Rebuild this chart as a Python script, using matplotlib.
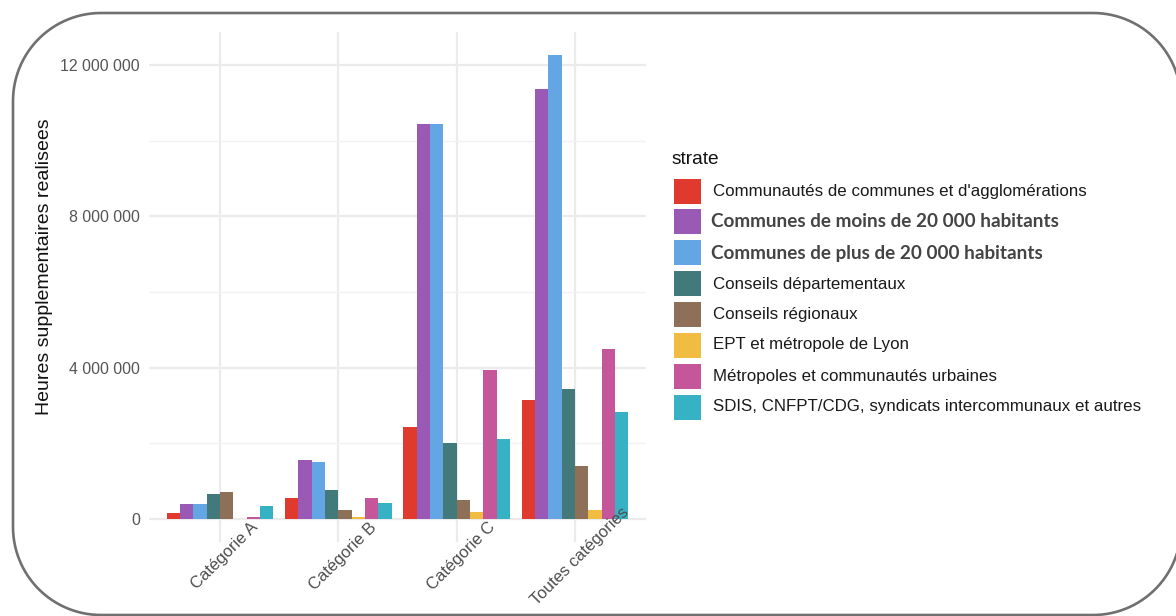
import numpy as np
import matplotlib
matplotlib.use("Agg")
import matplotlib.pyplot as plt
import matplotlib.transforms as mtrans
from matplotlib.patches import Rectangle, PathPatch
from matplotlib.path import Path
from matplotlib.transforms import IdentityTransform
from matplotlib.ticker import FuncFormatter, MultipleLocator

categories = ["Catégorie A", "Catégorie B", "Catégorie C", "Toutes catégories"]
strates = [
    "Communautés de communes et d'agglomérations",
    "Communes de moins de 20 000 habitants",
    "Communes de plus de 20 000 habitants",
    "Conseils départementaux",
    "Conseils régionaux",
    "EPT et métropole de Lyon",
    "Métropoles et communautés urbaines",
    "SDIS, CNFPT/CDG, syndicats intercommunaux et autres",
]
# values per strate, for [A, B, C, Toutes]
v_cc = [150000, 540000, 2440000, 3140000]
v_moins20k = [380000, 1560000, 10430000, 11380000]
v_plus20k = [380000, 1500000, 10430000, 12270000]
v_dep = [660000, 770000, 2000000, 3420000]
v_reg = [710000, 240000, 500000, 1400000]
v_ept = [0, 60000, 180000, 230000]
v_metro = [60000, 540000, 3930000, 4500000]
v_sdis = [340000, 430000, 2110000, 2820000]
values = [v_cc, v_moins20k, v_plus20k, v_dep, v_reg, v_ept, v_metro, v_sdis]
colors = ["#e0392d", "#9b59b6", "#63a6e3", "#42797a", "#8e7058",
          "#f0bd42", "#c6569a", "#37b2c5"]

W, H = 1176, 616
fig = plt.figure(figsize=(W / 100, H / 100), dpi=100)
fig.patch.set_facecolor("white")

def px(x0, y0, x1, y1):
    return [x0 / W, 1 - y1 / H, (x1 - x0) / W, (y1 - y0) / H]

ax = fig.add_axes(px(149, 31.7, 646, 542))
ax.set_facecolor("white")
ax.set_axisbelow(True)

n = len(values)
bw = 0.9 / n
x = np.arange(len(categories))
for i, (vals, c) in enumerate(zip(values, colors)):
    ax.bar(x + (i - (n - 1) / 2) * bw, vals, width=bw, color=c,
           edgecolor="none", zorder=2)

ymax = max(max(v) for v in values)
ax.set_ylim(-0.05 * ymax, 1.05 * ymax)
ax.set_xlim(-0.6, len(categories) - 0.4)

ax.yaxis.set_major_locator(MultipleLocator(4_000_000))
ax.yaxis.set_minor_locator(MultipleLocator(2_000_000))
ax.yaxis.set_major_formatter(FuncFormatter(lambda v, p: f"{int(v):,}".replace(",", " ")))
ax.grid(True, which="major", color="#ebebeb", linewidth=1.6)
ax.grid(True, which="minor", axis="y", color="#f2f2f2", linewidth=1.0)
for s in ax.spines.values():
    s.set_visible(False)

# x category labels: drawn as texts above the bars (they overlap the panel edge)
ax.set_xticks(x)
ax.set_xticklabels([])
off = mtrans.ScaledTranslation(5 / 100, -14 / 100, fig.dpi_scale_trans)
for xi, lab in zip(x, categories):
    ax.text(xi, 0, lab, transform=ax.get_xaxis_transform() + off,
            rotation=45, ha="center", va="center", fontsize=12,
            family="Liberation Sans", color="#4d4d4d", zorder=6, clip_on=False)

ax.tick_params(axis="both", which="both", length=0)
ax.tick_params(axis="y", pad=6.5, labelsize=11.4, labelcolor="#555555")
for t in ax.get_yticklabels():
    t.set_family("Liberation Sans")

fig.text(45 / W, 1 - 267 / H, "Heures supplementaires realisees", rotation=90,
         ha="center", va="center", fontsize=14, family="Liberation Sans",
         color="#111111")

# legend
fig.text(672 / W, 1 - 160 / H, "strate", ha="left", va="center",
         fontsize=13.8, family="Liberation Sans", color="#111111")
key_y = [191.5, 221.5, 253, 284, 315, 345, 376, 407]
for i, (lab, c) in enumerate(zip(strates, colors)):
    yc = key_y[i]
    fig.patches.append(Rectangle((674 / W, 1 - (yc + 12.5) / H), 27 / W, 25 / H,
                                 transform=fig.transFigure, facecolor=c,
                                 edgecolor="none"))
    if i in (1, 2):
        fig.text(711 / W, 1 - yc / H, lab, ha="left", va="center",
                 fontsize=13.6, family="Lato", fontweight="bold", color="#444444")
    else:
        fig.text(713 / W, 1 - yc / H, lab, ha="left", va="center",
                 fontsize=12.2, family="Liberation Sans", color="#1a1a1a")

# rounded frame, built in pixel coordinates (top-left origin), circular corners
def rounded_rect(x0, y0, x1, y1, r, npts=30):
    pts = []
    corners = [(x1 - r, y0 + r, -90, 0), (x1 - r, y1 - r, 0, 90),
               (x0 + r, y1 - r, 90, 180), (x0 + r, y0 + r, 180, 270)]
    for cx, cy, a0, a1 in corners:
        a = np.radians(np.linspace(a0, a1, npts))
        pts.extend(zip(cx + r * np.cos(a), cy + r * np.sin(a)))
    pts.append(pts[0])
    pts = np.array(pts)
    pts[:, 1] = H - pts[:, 1]
    return Path(pts)

frame = PathPatch(rounded_rect(13, 13, 1181, 615, 88),
                  transform=IdentityTransform(), facecolor="none",
                  edgecolor="#707070", linewidth=1.9)
fig.patches.append(frame)

fig.savefig("out.png", dpi=100)
